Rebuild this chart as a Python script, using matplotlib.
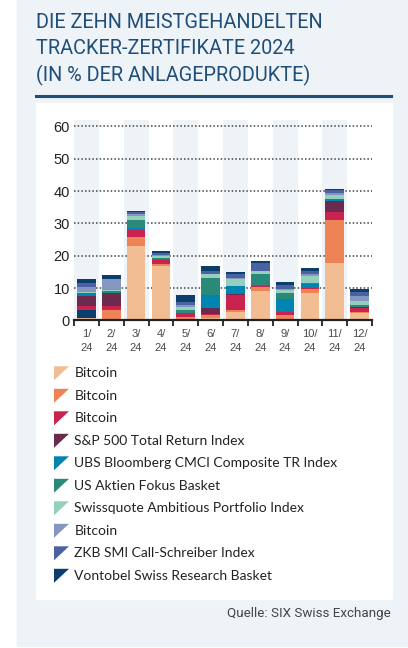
import matplotlib
matplotlib.use("Agg")
import matplotlib.pyplot as plt
from matplotlib.patches import Rectangle, Polygon
import numpy as np

# canvas size in pixels (dpi 100)
W, H = 408, 648

months = ["1/\n24", "2/\n24", "3/\n24", "4/\n24", "5/\n24", "6/\n24",
          "7/\n24", "8/\n24", "9/\n24", "10/\n24", "11/\n24", "12/\n24"]

# shares in % of investment products, stacked bottom -> top
bitcoin_a = [0.9, 0.5, 23.0, 16.7, 0.0, 0.7, 2.6, 9.0, 0.2, 8.4, 17.9, 2.4]
jan_extra = [2.4, 0.0, 0.0, 0.0, 0.0, 0.0, 0.0, 0.0, 0.0, 0.0, 0.0, 0.0]
bitcoin_b = [0.0, 2.9, 2.7, 0.7, 1.1, 1.0, 0.8, 1.5, 1.4, 1.2, 13.3, 0.3]
bitcoin_c = [1.1, 1.0, 2.3, 1.2, 1.1, 0.2, 4.5, 0.3, 0.9, 0.3, 2.2, 1.1]
sp500_tr = [3.2, 4.2, 0.0, 0.0, 0.0, 2.1, 0.2, 0.0, 0.0, 0.0, 3.7, 0.3]
ubs_cmci = [0.8, 0.0, 0.5, 0.4, 0.0, 3.9, 2.6, 0.2, 4.3, 1.3, 0.6, 0.2]
us_aktien = [0.0, 0.5, 2.5, 0.3, 1.2, 5.2, 0.0, 3.5, 1.8, 0.5, 0.0, 0.6]
swissquote = [0.5, 0.4, 1.2, 0.5, 0.7, 1.3, 2.2, 0.9, 0.8, 2.2, 1.2, 1.1]
bitcoin_d = [1.5, 3.2, 0.6, 0.5, 0.7, 0.0, 0.2, 0.0, 0.4, 0.5, 0.6, 1.5]
zkb_smi = [1.2, 0.2, 0.6, 0.6, 0.8, 0.9, 1.4, 2.5, 1.2, 1.0, 0.9, 1.3]
vontobel = [1.3, 1.2, 0.6, 0.6, 2.2, 1.5, 0.6, 0.6, 0.9, 0.9, 0.4, 0.9]

labels = ["Bitcoin", "Bitcoin", "Bitcoin", "S&P 500 Total Return Index",
          "UBS Bloomberg CMCI Composite TR Index", "US Aktien Fokus Basket",
          "Swissquote Ambitious Portfolio Index", "Bitcoin",
          "ZKB SMI Call-Schreiber Index", "Vontobel Swiss Research Basket"]
colors = ["#F2BD93", "#EE8455", "#C9234F", "#6C2A4E", "#0084B2",
          "#2A8979", "#95D0BC", "#8497C1", "#4A62A1", "#0C3E6D"]

PANEL = "#EEF3F7"
BLUE = "#1F4E79"


def fx(px):
    return px / W


def fy(py):
    return 1 - py / H


fig = plt.figure(figsize=(W / 100, H / 100), dpi=100, facecolor="white")

# light panel + white card
fig.patches.append(Rectangle((fx(17), fy(646)), fx(408) - fx(17), fy(0) - fy(646),
                             transform=fig.transFigure, color=PANEL, zorder=-10))
fig.patches.append(Rectangle((fx(36), fy(599)), fx(392) - fx(36), fy(103) - fy(599),
                             transform=fig.transFigure, color="white", zorder=-9))

# title
title_lines = ["DIE ZEHN MEISTGEHANDELTEN", "TRACKER-ZERTIFIKATE 2024",
               "(IN % DER ANLAGEPRODUKTE)"]
for i, line in enumerate(title_lines):
    fig.text(fx(36), fy(27.5 + 26.7 * i), line, fontsize=14.3, color=BLUE,
             family="Roboto", va="baseline", ha="left")
fig.add_artist(plt.Line2D([fx(36), fx(391)], [fy(96), fy(96)], color=BLUE, lw=2.2,
                          transform=fig.transFigure))

# chart
ax = fig.add_axes([fx(74), fy(320.5), fx(372) - fx(74), fy(120) - fy(320.5)])
ax.set_facecolor("none")
x = np.arange(len(months))

for i in x[::2]:
    ax.axvspan(i - 0.5, i + 0.5, color=PANEL, lw=0, zorder=0)

stack = [(bitcoin_a, colors[0]), (jan_extra, colors[9]), (bitcoin_b, colors[1]),
         (bitcoin_c, colors[2]), (sp500_tr, colors[3]), (ubs_cmci, colors[4]),
         (us_aktien, colors[5]), (swissquote, colors[6]), (bitcoin_d, colors[7]),
         (zkb_smi, colors[8]), (vontobel, colors[9])]
bottom = np.zeros(len(months))
for vals, c in stack:
    vals = np.array(vals)
    ax.bar(x, vals, width=0.75, bottom=bottom, color=c, lw=0, zorder=3)
    bottom += vals

ax.set_xlim(-0.5, len(months) - 0.5)
ax.set_ylim(0, 62)
ax.set_yticks(range(0, 61, 10))
ax.yaxis.grid(True, linestyle=(0, (1, 1.4)), color="#444444", lw=1.1, zorder=1)
ax.set_axisbelow(True)
for s in ["top", "right", "left"]:
    ax.spines[s].set_visible(False)
ax.spines["bottom"].set_color("#222222")
ax.spines["bottom"].set_linewidth(1.6)
ax.spines["bottom"].set_zorder(5)

ax.tick_params(axis="y", length=0, pad=3, labelsize=10.5, labelcolor="#222222")
for t in ax.get_yticklabels():
    t.set_family("Liberation Sans")
ax.set_xticks(x)
ax.set_xticklabels(months, fontsize=8, color="#4a4a4a", family="Liberation Sans",
                   linespacing=1.5)
ax.tick_params(axis="x", which="major", length=0, pad=6)
ax.set_xticks(np.arange(-0.5, len(months)), minor=True)
ax.tick_params(axis="x", which="minor", length=4, width=1.3, color="#222222")

# legend with flag-shaped markers
for i, (lab, c) in enumerate(zip(labels, colors)):
    cy = 373.3 + 22.5 * i
    tri = Polygon([(fx(54), fy(cy - 7)), (fx(69), fy(cy - 7)), (fx(54), fy(cy + 7))],
                  closed=True, transform=fig.transFigure, color=c, lw=0)
    fig.patches.append(tri)
    fig.text(fx(74.5), fy(cy), lab, fontsize=10, color="#222222", family="Lato",
             va="center", ha="left")

fig.text(fx(391), fy(614), "Quelle: SIX Swiss Exchange", fontsize=9.6, color="#444444",
         family="Roboto", va="center", ha="right")

fig.savefig("out.png", dpi=100)
